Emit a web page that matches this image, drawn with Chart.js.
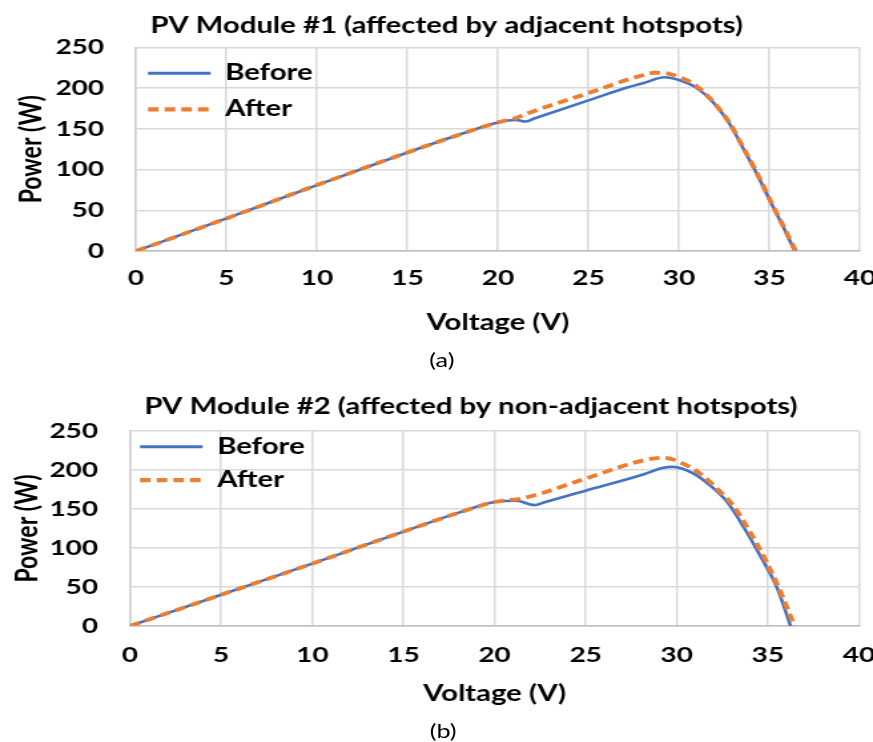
<!DOCTYPE html>
<html>
<head>
<meta charset="utf-8">
<script src="https://cdn.jsdelivr.net/npm/chart.js@4/dist/chart.umd.min.js"></script>
<style>
  html, body { margin: 0; padding: 0; background: #fff; }
  #wrap { position: absolute; left: 0; top: 0; width: 656px; height: 742px; transform: scaleX(1.33079); transform-origin: 0 0; }
  .box { position: absolute; left: 0; width: 656px; }
  .cap { position: absolute; width: 100px; text-align: center; font-family: Lato, sans-serif; font-size: 19px; line-height: 20px; color: #000; }
</style>
</head>
<body>
<div id="wrap">
  <div class="box" style="top:0;height:340px"><canvas id="c1"></canvas></div>
  <div class="cap" style="left:282px;top:350px">(a)</div>
  <div class="box" style="top:380px;height:330px"><canvas id="c2"></canvas></div>
  <div class="cap" style="left:283px;top:721px">(b)</div>
</div>
<script>
// ---- data ----
const seriesNames = ['Before', 'After'];
const xTitle = 'Voltage (V)';
const yTitle = 'Power (W)';
const title1 = 'PV Module #1 (affected by adjacent hotspots)';
const title2 = 'PV Module #2 (affected by non-adjacent hotspots)';
const voltageTicks = [0, 5, 10, 15, 20, 25, 30, 35, 40];
const powerTicks = [0, 50, 100, 150, 200, 250];

const m1BeforeV = [0, 5, 10, 15, 18, 20, 21, 21.5, 22, 25, 27, 28, 29.2, 30, 30.95, 31.9, 32.8, 33.5, 34.3, 35, 35.75, 36.4];
const m1BeforeP = [0, 40, 81, 121, 144, 158, 161, 159, 162.7, 185, 200, 206, 213.5, 210, 200.7, 182.5, 156, 128, 95, 63, 30, 0];
const m1AfterV  = [0, 5, 10, 15, 18, 20, 21, 21.5, 25, 28, 28.7, 29.4, 30, 30.95, 31.9, 32.8, 33.5, 34.3, 35, 35.75, 36.45];
const m1AfterP  = [0, 40, 81, 121, 144, 158, 163.5, 168, 194, 216, 219, 218, 213.7, 203, 183, 157, 129, 96, 64, 31, 0];

const m2BeforeV = [0, 5, 10, 15, 18, 20, 21.2, 22.2, 22.7, 25, 28.2, 29.2, 29.8, 30.9, 31.8, 32.75, 33.65, 34.6, 35.5, 36.25];
const m2BeforeP = [0, 40, 80, 121, 145, 159, 160.5, 155, 158.4, 173.5, 194.5, 202.5, 204, 195.6, 180.7, 159.4, 127.5, 89, 49, 0];
const m2AfterV  = [0, 5, 10, 15, 18, 20, 20.8, 21.5, 25, 28.2, 29.3, 30.4, 31.3, 32.2, 33.1, 34, 34.9, 35.7, 36.45];
const m2AfterP  = [0, 40, 80, 121, 145, 159, 161.5, 163.5, 189, 212.6, 215.6, 207.5, 195, 176, 154, 121, 83, 43, 0];

// ---- drawing ----
const FONT = 'Lato';
const BLUE = '#4472C4', ORANGE = '#ED7D31';
const toPts = (vs, ps) => vs.map((v, i) => ({ x: v, y: ps[i] }));

function makeChart(id, titleText, bV, bP, aV, aP, L) {
  const bold = (s) => ({ family: FONT, size: s, weight: 'bold' });
  const place = {
    id: 'place',
    beforeDraw(chart) {
      const t = chart.titleBlock;
      if (t) { t.left = L.titleCenter - 320; t.right = L.titleCenter + 320; }
      const lg = chart.legend, ca = chart.chartArea;
      if (lg) { lg.left = L.legLeft; lg.right = ca.right; lg.top = ca.top + L.legDy; lg.bottom = ca.bottom; }
    }
  };
  return new Chart(document.getElementById(id), {
    type: 'line',
    plugins: [place],
    data: {
      datasets: [
        { label: seriesNames[0], data: toPts(bV, bP), borderColor: BLUE, backgroundColor: BLUE,
          borderWidth: 2.6, pointRadius: 0, cubicInterpolationMode: 'monotone', order: 1 },
        { label: seriesNames[1], data: toPts(aV, aP), borderColor: ORANGE, backgroundColor: ORANGE,
          borderWidth: 3.8, borderDash: [8, 4.5], pointRadius: 0, cubicInterpolationMode: 'monotone', order: 0 }
      ]
    },
    options: {
      responsive: true, maintainAspectRatio: false, animation: false,
      layout: { padding: { left: 0, right: L.padRight, top: 0, bottom: 0 } },
      plugins: {
        tooltip: { enabled: false },
        title: { display: true, text: titleText, color: '#000', font: bold(22),
                 padding: { top: L.titleTop, bottom: L.titleBottom } },
        legend: {
          position: 'chartArea', align: 'start',
          labels: {
            usePointStyle: true, pointStyle: 'line', pointStyleWidth: 47, padding: L.legPad,
            color: '#000', font: bold(22),
            generateLabels: (chart) => Chart.defaults.plugins.legend.labels.generateLabels(chart).map((it) => {
              const ds = chart.data.datasets[it.datasetIndex];
              return Object.assign(it, { lineDash: ds.borderDash || [], lineWidth: ds.borderWidth + 0.4, strokeStyle: ds.borderColor, lineCap: 'butt' });
            }),
            sort: (a, b) => a.datasetIndex - b.datasetIndex
          }
        }
      },
      scales: {
        x: {
          type: 'linear', min: 0, max: 40,
          afterBuildTicks: (s) => { s.ticks = voltageTicks.map(v => ({ value: v })); },
          grid: { color: '#d9d9d9', lineWidth: 1.5, drawTicks: false },
          border: { color: '#bfbfbf', width: 1.5 },
          ticks: { color: '#000', font: bold(21), padding: L.xTickPad, maxRotation: 0 },
          title: { display: true, text: xTitle, color: '#000', font: bold(22), padding: { top: 0, bottom: L.xTitleBottom } },
          afterFit: (s) => { s.height = L.xHeight; s.paddingLeft = 0; s.paddingRight = 0; }
        },
        y: {
          type: 'linear', min: 0, max: 250,
          afterBuildTicks: (s) => { s.ticks = powerTicks.map(v => ({ value: v })); },
          grid: { color: '#d9d9d9', lineWidth: 1.5, drawTicks: false },
          border: { color: '#d0d0d0', width: 1.5 },
          ticks: { color: '#000', font: bold(21), padding: 24 },
          title: { display: true, text: yTitle, color: '#000', font: bold(23), padding: { top: L.yTitleTop, bottom: 0 } },
          afterFit: (s) => { s.width = L.yWidth; s.paddingTop = 0; s.paddingBottom = 0; }
        }
      }
    }
  });
}

function draw() {
  makeChart('c1', title1, m1BeforeV, m1BeforeP, m1AfterV, m1AfterP,
    { padRight: 9.8, yWidth: 102.2, yTitleTop: 10, titleTop: 12.8, titleBottom: 8.3, titleCenter: 335.7,
      xHeight: 89, xTickPad: 15, xTitleBottom: 4.3, legLeft: 97.2, legDy: 0.8, legPad: 14 });
  makeChart('c2', title2, m2BeforeV, m2BeforeP, m2AfterV, m2AfterP,
    { padRight: 10.5, yWidth: 97.7, yTitleTop: 6.9, titleTop: 13.5, titleBottom: 11.1, titleCenter: 353.9,
      xHeight: 84, xTickPad: 17, xTitleBottom: 2.8, legLeft: 93.7, legDy: -6.8, legPad: 11.5 });
}
if (document.fonts && document.fonts.load) {
  Promise.all([document.fonts.load('bold 21px Lato'), document.fonts.load('19px Lato')]).then(draw, draw);
} else { draw(); }
</script>
</body>
</html>
